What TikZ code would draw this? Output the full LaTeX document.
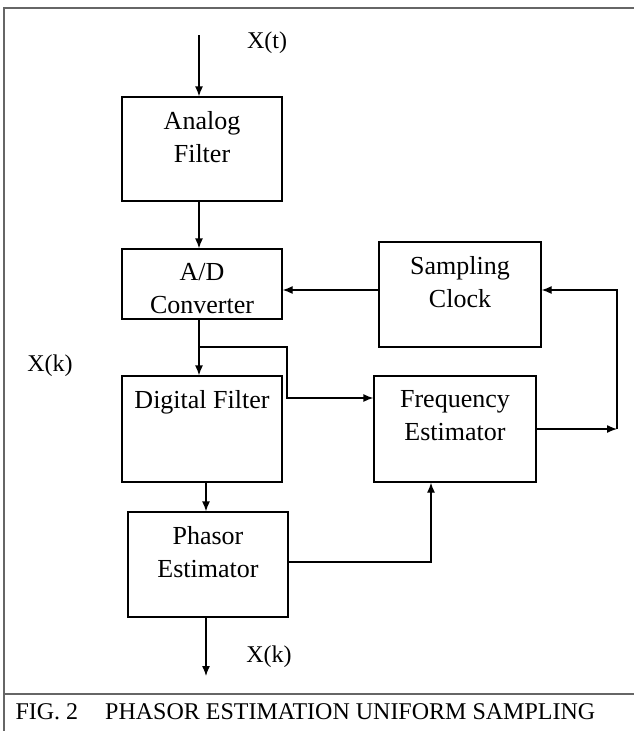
\documentclass[tikz,border=0pt]{standalone}
\usepackage{fontspec}
\setmainfont{Liberation Serif}
\usetikzlibrary{arrows.meta,positioning}
\newcommand{\boxfont}{\fontsize{26}{33}\selectfont}
\newcommand{\lblfont}{\fontsize{24}{28}\selectfont}
\tikzset{>={Latex[length=10pt,width=8pt]},every node/.style={font=\lblfont},
 blok/.style={draw,line width=1.3pt,minimum width=160pt,minimum height=105pt,inner sep=0pt,
  label={[anchor=north,align=center,font=\boxfont,yshift=-11.5pt]north:#1}},
 flow/.style={line width=1.3pt,->},frame/.style={line width=2pt,black!60}}

\begin{document}
\begin{tikzpicture}[x=1pt,y=-1pt]
\useasboundingbox (0,0) rectangle (634,731);
% Cadre et legende de la figure.
\draw[frame] (634,8)--(4,8)--(4,731) (4,694)--(634,694);
\node[anchor=west] (cap) at (12,712) {FIG. 2\hspace{27pt}PHASOR ESTIMATION UNIFORM SAMPLING};
% Blocs de la chaine d'estimation.
\node[blok={Analog\\Filter},minimum height=104pt] (af) at (202,149) {};
\node[blok={A/D\\Converter},minimum height=70pt] (ad) at (202,284) {};
\node[blok={Sampling\\Clock},minimum width=162pt] (sc) at (460,294.5) {};
\node[blok={Digital Filter},minimum height=106pt] (df) at (202,429) {};
\node[blok={Frequency\\Estimator},minimum width=162pt,minimum height=106pt] (fe) at (455,429) {};
\node[blok={Phasor\\Estimator}] (pe) at (208,564.5) {};
% Points libres des liaisons.
\coordinate (in) at (199,35);
\coordinate (out) at (206,676);
\coordinate (br) at (199,347);
\coordinate (ret) at (617,429);
% Liaisons.
\draw[flow] (in) -- (in |- af.north);
\draw[flow] (af.south -| in) -- (ad.north -| in);
\draw[flow] ([yshift=4.5pt]sc.west) -- ([yshift=4.5pt]sc.west -| ad.east);
\draw[flow] (ad.south -| in) -- (df.north -| in);
\draw[flow] (br) -- (287,347) -- (287,398) -- (fe.west |- 0,398);
\draw[flow] (fe.east) -- (ret);
\draw[flow] (ret) |- ([yshift=4.5pt]sc.east);
\draw[flow] (df.south -| out) -- (pe.north -| out);
\draw[flow] ([yshift=2.5pt]pe.east) -| ([xshift=-24pt]fe.south);
\draw[flow] (pe.south -| out) -- (out);
% Signaux.
\node (xt) at (267,43) {X(t)};
\node (xk) at (50,366) {X(k)};
\node (xkout) at (269,657) {X(k)};
\end{tikzpicture}
\end{document}
